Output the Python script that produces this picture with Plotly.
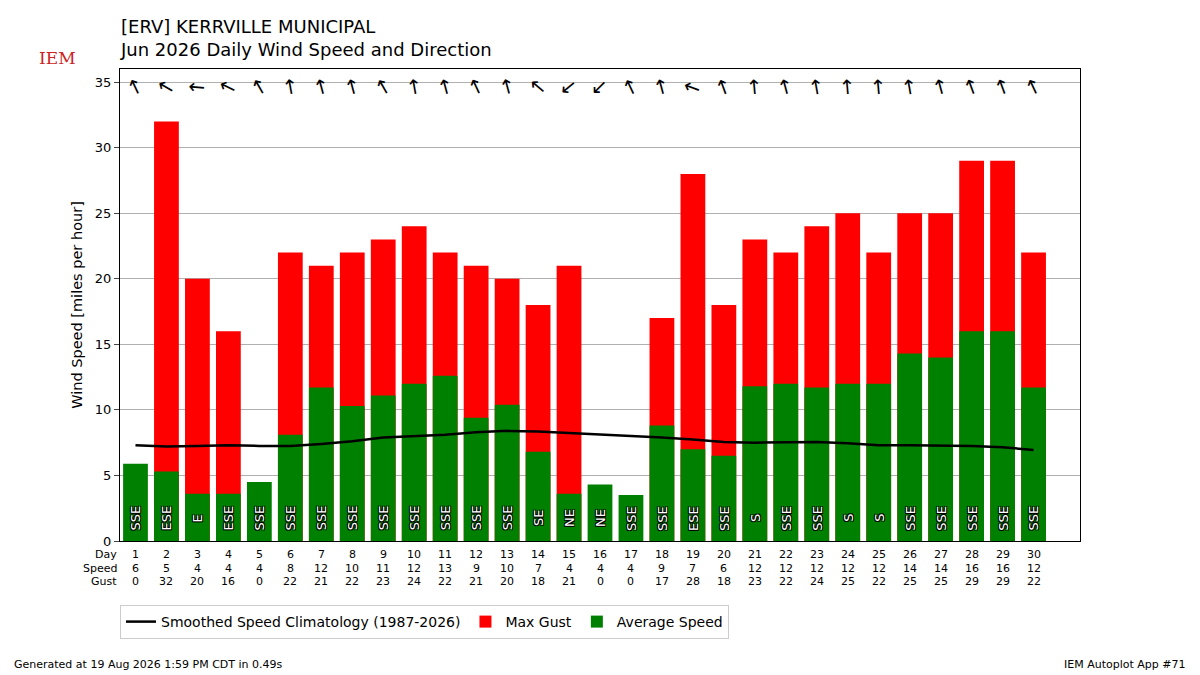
import plotly.graph_objects as go

days = list(range(1, 31))
avg_speed = [5.9, 5.3, 3.6, 3.6, 4.5, 8.1, 11.7, 10.3, 11.1, 12.0, 12.6, 9.4, 10.4, 6.8, 3.6,
             4.3, 3.5, 8.8, 7.0, 6.5, 11.8, 12.0, 11.7, 12.0, 12.0, 14.3, 14.0, 16.0, 16.0, 11.7]
speed_lbl = [6, 5, 4, 4, 4, 8, 12, 10, 11, 12, 13, 9, 10, 7, 4, 4, 4, 9, 7, 6, 12, 12, 12, 12, 12,
             14, 14, 16, 16, 12]
gust = [0, 32, 20, 16, 0, 22, 21, 22, 23, 24, 22, 21, 20, 18, 21, 0, 0, 17, 28, 18, 23, 22, 24,
        25, 22, 25, 25, 29, 29, 22]
dir_txt = ["SSE", "ESE", "E", "ESE", "SSE", "SSE", "SSE", "SSE", "SSE", "SSE", "SSE", "SSE", "SSE",
           "SE", "NE", "NE", "SSE", "SSE", "ESE", "SSE", "S", "SSE", "SSE", "S", "S", "SSE", "SSE",
           "SSE", "SSE", "SSE"]
dir_deg = [155, 120, 95, 115, 150, 170, 165, 165, 150, 170, 165, 155, 165, 130, 50, 45, 155, 165,
           110, 160, 175, 165, 170, 175, 175, 170, 165, 160, 160, 155]
clim = [7.3, 7.2, 7.25, 7.3, 7.25, 7.25, 7.4, 7.6, 7.9, 8.0, 8.1, 8.3, 8.4, 8.35, 8.25, 8.1, 8.05,
        7.9, 7.75, 7.55, 7.5, 7.5, 7.55, 7.45, 7.3, 7.3, 7.3, 7.25, 7.15, 6.95]


def px(x):
    return (x - 120) / 960


def py(y):
    return (540 - y) / 472


fig = go.Figure()
fig.add_trace(go.Scatter(x=days, y=clim, mode="lines", line=dict(color="black", width=2.5),
                         name="Smoothed Speed Climatology (1987-2026)"))
fig.add_trace(go.Bar(x=days, y=gust, marker_color="red", width=0.8, name="Max Gust",
                     marker_line_width=0))
fig.add_trace(go.Bar(x=days, y=avg_speed, marker_color="green", width=0.8, name="Average Speed",
                     marker_line_width=0))

shadow = "1px 1px 0 black, -1px -1px 0 black, 1px -1px 0 black, -1px 1px 0 black"
ann = []
for d, deg, t in zip(days, dir_deg, dir_txt):
    # arrow points where the wind blows to
    ann.append(dict(x=d, y=34.6, xref="x", yref="y", text="↑", textangle=(deg + 180) % 360,
                    showarrow=False, font=dict(size=20, color="black")))
    ann.append(dict(x=d, y=1.75, xref="x", yref="y", text=t, textangle=-90, showarrow=False,
                    font=dict(color="white", size=13, shadow=shadow)))
    for i, v in enumerate([d, speed_lbl[d - 1], gust[d - 1]]):
        ann.append(dict(x=d, y=0, xref="x", yref="paper", yshift=-22 - 13.5 * i, text=str(v),
                        showarrow=False, font=dict(size=11, color="black")))
for i, lab in enumerate(["Day", "Speed", "Gust"]):
    ann.append(dict(x=0.5, y=0, xref="x", yref="paper", yshift=-22 - 13.5 * i, xshift=-1,
                    text=lab, xanchor="right", showarrow=False, font=dict(size=11, color="black")))
ann += [
    dict(x=px(118), y=py(13), xref="paper", yref="paper", showarrow=False, xanchor="left",
         yanchor="top", align="left",
         text="[ERV] KERRVILLE MUNICIPAL<br>Jun 2026 Daily Wind Speed and Direction",
         font=dict(size=18, color="black")),
    dict(x=px(12), y=py(672), xref="paper", yref="paper", showarrow=False, xanchor="left",
         text="Generated at 19 Aug 2026 1:59 PM CDT in 0.49s", font=dict(size=11, color="black")),
    dict(x=px(1188), y=py(672), xref="paper", yref="paper", showarrow=False,
         xanchor="right", text="IEM Autoplot App #71", font=dict(size=11, color="black")),
    dict(x=px(37), y=py(45), xref="paper", yref="paper", showarrow=False,
         text="IEM", font=dict(size=17, color="#cc2222", family="DejaVu Serif")),
]

fig.update_layout(
    width=1200, height=675, barmode="overlay", bargap=0.2,
    paper_bgcolor="white", plot_bgcolor="white",
    font=dict(family="DejaVu Sans", size=13, color="black"),
    margin=dict(l=112, r=128, t=61, b=142),
    xaxis=dict(range=[0.5, 31.5], showticklabels=False, ticks="", showgrid=False,
               showline=True, mirror=True, linecolor="black", zeroline=False),
    yaxis=dict(range=[0, 36], tickvals=[0, 5, 10, 15, 20, 25, 30, 35], ticks="outside",
               showgrid=True, gridcolor="#b0b0b0", showline=True, mirror=True,
               linecolor="black", zeroline=False,
               title=dict(text="Wind Speed [miles per hour]", font=dict(size=14.5), standoff=8)),
    legend=dict(orientation="h", x=0, xanchor="left", y=py(621), yanchor="middle",
                bordercolor="#cccccc", borderwidth=1, font=dict(size=14), entrywidthmode="pixels"),
    annotations=ann,
    showlegend=True,
)
fig.write_html("out.html")
